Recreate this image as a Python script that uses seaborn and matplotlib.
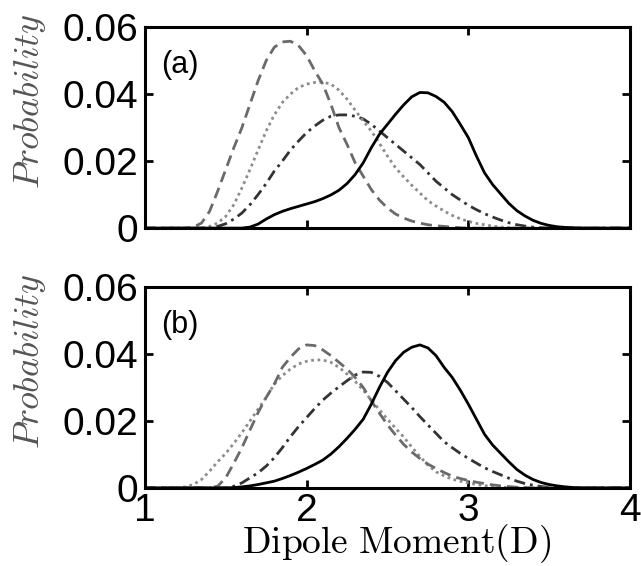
import seaborn as sns
import matplotlib.pyplot as plt
import pandas as pd

# ---------------------------------------------------------------
# Data (x = dipole moment in D, step 0.05)
# ---------------------------------------------------------------

dipole = [1.00, 1.05, 1.10, 1.15, 1.20, 1.25, 1.30, 1.35, 1.40, 1.45,
          1.50, 1.55, 1.60, 1.65, 1.70, 1.75, 1.80, 1.85, 1.90, 1.95,
          2.00, 2.05, 2.10, 2.15, 2.20, 2.25, 2.30, 2.35, 2.40, 2.45,
          2.50, 2.55, 2.60, 2.65, 2.70, 2.75, 2.80, 2.85, 2.90, 2.95,
          3.00, 3.05, 3.10, 3.15, 3.20, 3.25, 3.30, 3.35, 3.40, 3.45,
          3.50, 3.55, 3.60, 3.65, 3.70, 3.75, 3.80, 3.85, 3.90, 3.95,
          4.00]

# panel (a)
a_solid = [0, 0, 0, 0, 0, 0, 0, 0, 0, 0,
           0, 0, 0, 0.0003, 0.0012, 0.0027, 0.004, 0.005, 0.0058, 0.0065,
           0.0072, 0.0079, 0.0088, 0.0099, 0.0113, 0.0133, 0.016, 0.0195, 0.024, 0.028,
           0.031, 0.034, 0.0368, 0.0392, 0.0405, 0.0404, 0.0393, 0.0376, 0.0348, 0.031,
           0.027, 0.0215, 0.0165, 0.013, 0.0102, 0.0074, 0.0052, 0.0036, 0.0023, 0.0014,
           0.0008, 0.0004, 0.0002, 0.0001, 0, 0, 0, 0, 0, 0,
           0]
a_dashed = [0, 0, 0, 0, 0, 0, 0.0003, 0.0015, 0.005, 0.011,
            0.0175, 0.024, 0.030, 0.037, 0.044, 0.050, 0.054, 0.0556, 0.0558, 0.0545,
            0.0515, 0.047, 0.043, 0.037, 0.030, 0.025, 0.0195, 0.0155, 0.0115, 0.0084,
            0.006, 0.0042, 0.003, 0.0021, 0.0015, 0.001, 0.0007, 0.0005, 0.0003, 0.0001,
            0, 0, 0, 0, 0, 0, 0, 0, 0, 0,
            0, 0, 0, 0, 0, 0, 0, 0, 0, 0,
            0]
a_dotted = [0, 0, 0, 0, 0, 0, 0, 0, 0.0005, 0.0015,
            0.0035, 0.007, 0.012, 0.0175, 0.0233, 0.029, 0.0338, 0.0375, 0.040, 0.042,
            0.043, 0.0435, 0.0436, 0.043, 0.0412, 0.0385, 0.0352, 0.032, 0.029, 0.0253,
            0.0215, 0.018, 0.0153, 0.0128, 0.0105, 0.0082, 0.0066, 0.0051, 0.0038, 0.0028,
            0.002, 0.0014, 0.001, 0.0006, 0.0003, 0.0001, 0, 0, 0, 0,
            0, 0, 0, 0, 0, 0, 0, 0, 0, 0,
            0]
a_dashdot = [0, 0, 0, 0, 0, 0, 0, 0, 0, 0.0005,
             0.0013, 0.0027, 0.0045, 0.007, 0.010, 0.0133, 0.017, 0.020, 0.0233, 0.026,
             0.0285, 0.0305, 0.0322, 0.0334, 0.0338, 0.0338, 0.0334, 0.0326, 0.031, 0.029,
             0.027, 0.025, 0.023, 0.021, 0.019, 0.0165, 0.014, 0.012, 0.010, 0.0084,
             0.0068, 0.0055, 0.0043, 0.0033, 0.0024, 0.0016, 0.001, 0.0006, 0.0003, 0.0001,
             0, 0, 0, 0, 0, 0, 0, 0, 0, 0,
             0]

# panel (b)
b_solid = [0, 0, 0, 0, 0, 0, 0, 0, 0, 0,
           0, 0.0001, 0.0003, 0.0006, 0.001, 0.0015, 0.002, 0.0028, 0.0037, 0.0047,
           0.0058, 0.007, 0.0083, 0.0101, 0.0123, 0.0148, 0.0175, 0.0205, 0.025, 0.030,
           0.0345, 0.038, 0.0405, 0.042, 0.0427, 0.0418, 0.0395, 0.036, 0.033, 0.0292,
           0.025, 0.0205, 0.016, 0.0128, 0.0103, 0.0078, 0.0055, 0.0038, 0.0025, 0.0016,
           0.001, 0.0006, 0.0003, 0.0001, 0, 0, 0, 0, 0, 0,
           0]
b_dashed = [0, 0, 0, 0, 0, 0, 0, 0, 0, 0.0005,
            0.003, 0.0074, 0.012, 0.0173, 0.0225, 0.027, 0.031, 0.036, 0.039, 0.0415,
            0.0427, 0.0425, 0.0412, 0.0395, 0.0375, 0.0355, 0.033, 0.030, 0.026, 0.0223,
            0.0188, 0.0158, 0.013, 0.0107, 0.0088, 0.0071, 0.0058, 0.0046, 0.0035, 0.0028,
            0.0022, 0.0017, 0.0013, 0.0009, 0.0006, 0.0004, 0.0002, 0.0001, 0, 0,
            0, 0, 0, 0, 0, 0, 0, 0, 0, 0,
            0]
b_dotted = [0, 0, 0, 0, 0, 0.0003, 0.001, 0.0025, 0.005, 0.0078,
            0.0103, 0.0133, 0.0165, 0.020, 0.0235, 0.027, 0.031, 0.0335, 0.0355, 0.037,
            0.0378, 0.0382, 0.0382, 0.0375, 0.036, 0.034, 0.0318, 0.0292, 0.0262, 0.0233,
            0.0205, 0.0178, 0.0152, 0.0122, 0.0094, 0.0068, 0.0048, 0.0036, 0.0026, 0.002,
            0.0015, 0.001, 0.0007, 0.0004, 0.0002, 0.0001, 0, 0, 0, 0,
            0, 0, 0, 0, 0, 0, 0, 0, 0, 0,
            0]
b_dashdot = [0, 0, 0, 0, 0, 0, 0, 0, 0, 0,
             0, 0.0005, 0.0015, 0.003, 0.0045, 0.0065, 0.009, 0.012, 0.0153, 0.0183,
             0.021, 0.0237, 0.0262, 0.0283, 0.0302, 0.032, 0.0337, 0.0346, 0.0345, 0.0333,
             0.0315, 0.029, 0.0265, 0.024, 0.0213, 0.0188, 0.0163, 0.0138, 0.012, 0.0103,
             0.0088, 0.0074, 0.006, 0.0049, 0.0039, 0.0029, 0.002, 0.0013, 0.0008, 0.0004,
             0.0002, 0.0001, 0, 0, 0, 0, 0, 0, 0, 0,
             0]

panel_labels = ["(a)", "(b)"]
x_ticks = [1, 2, 3, 4]
y_ticks = [0, 0.02, 0.04, 0.06]
y_tick_labels = ["0", "0.02", "0.04", "0.06"]

# ---------------------------------------------------------------
# Style
# ---------------------------------------------------------------

sns.set_theme(style="ticks")
plt.rcParams["font.family"] = ["Liberation Sans", "DejaVu Sans"]
plt.rcParams["mathtext.fontset"] = "cm"
plt.rcParams["text.color"] = "black"
plt.rcParams["xtick.color"] = "black"
plt.rcParams["ytick.color"] = "black"

styles = [
    ("solid", "#000000", "-"),
    ("dashed", "#6a6a6a", (0, (4, 2.2))),
    ("dotted", "#8c8c8c", (0, (1, 1.3))),
    ("dashdot", "#333333", (0, (4, 1.8, 1, 1.8))),
]

panels = [
    {"solid": a_solid, "dashed": a_dashed, "dotted": a_dotted, "dashdot": a_dashdot},
    {"solid": b_solid, "dashed": b_dashed, "dotted": b_dotted, "dashdot": b_dashdot},
]

fig = plt.figure(figsize=(6.41, 5.66), dpi=100)
ax_top = fig.add_axes([0.226, 0.597, 0.757, 0.355])
ax_bot = fig.add_axes([0.226, 0.138, 0.757, 0.355])

for ax, data, label in zip([ax_top, ax_bot], panels, panel_labels):
    df = pd.DataFrame({"x": dipole, **data})
    # solid curve drawn last so it sits on top
    for name, color, ls in styles[::-1]:
        sns.lineplot(data=df, x="x", y=name, ax=ax, color=color,
                     linestyle=ls, linewidth=2.0)
    ax.set_xlim(1, 4)
    ax.set_ylim(0, 0.06)
    ax.set_xticks(x_ticks)
    ax.set_yticks(y_ticks)
    ax.set_yticklabels(y_tick_labels)
    ax.tick_params(direction="in", top=True, right=True, length=6,
                   width=2, labelsize=28, colors="black")
    ax.tick_params(axis="y", pad=5)
    ax.tick_params(axis="x", pad=4)
    for sp in ax.spines.values():
        sp.set_linewidth(2.2)
        sp.set_color("black")
    ax.set_ylabel(r"$Probability$", fontsize=26, color="#555555")
    ax.yaxis.set_label_coords(-0.2, 0.63)
    ax.set_xlabel("")
    ax.text(0.034, 0.81, label, transform=ax.transAxes, fontsize=22,
            va="center", ha="left")

ax_top.set_xticklabels([])
fig.text(0.618, 1 - 553 / 566, r"$\mathrm{Dipole\ Moment(D)}$", fontsize=27,
         ha="center", va="baseline")

fig.savefig("out.png", dpi=100)
